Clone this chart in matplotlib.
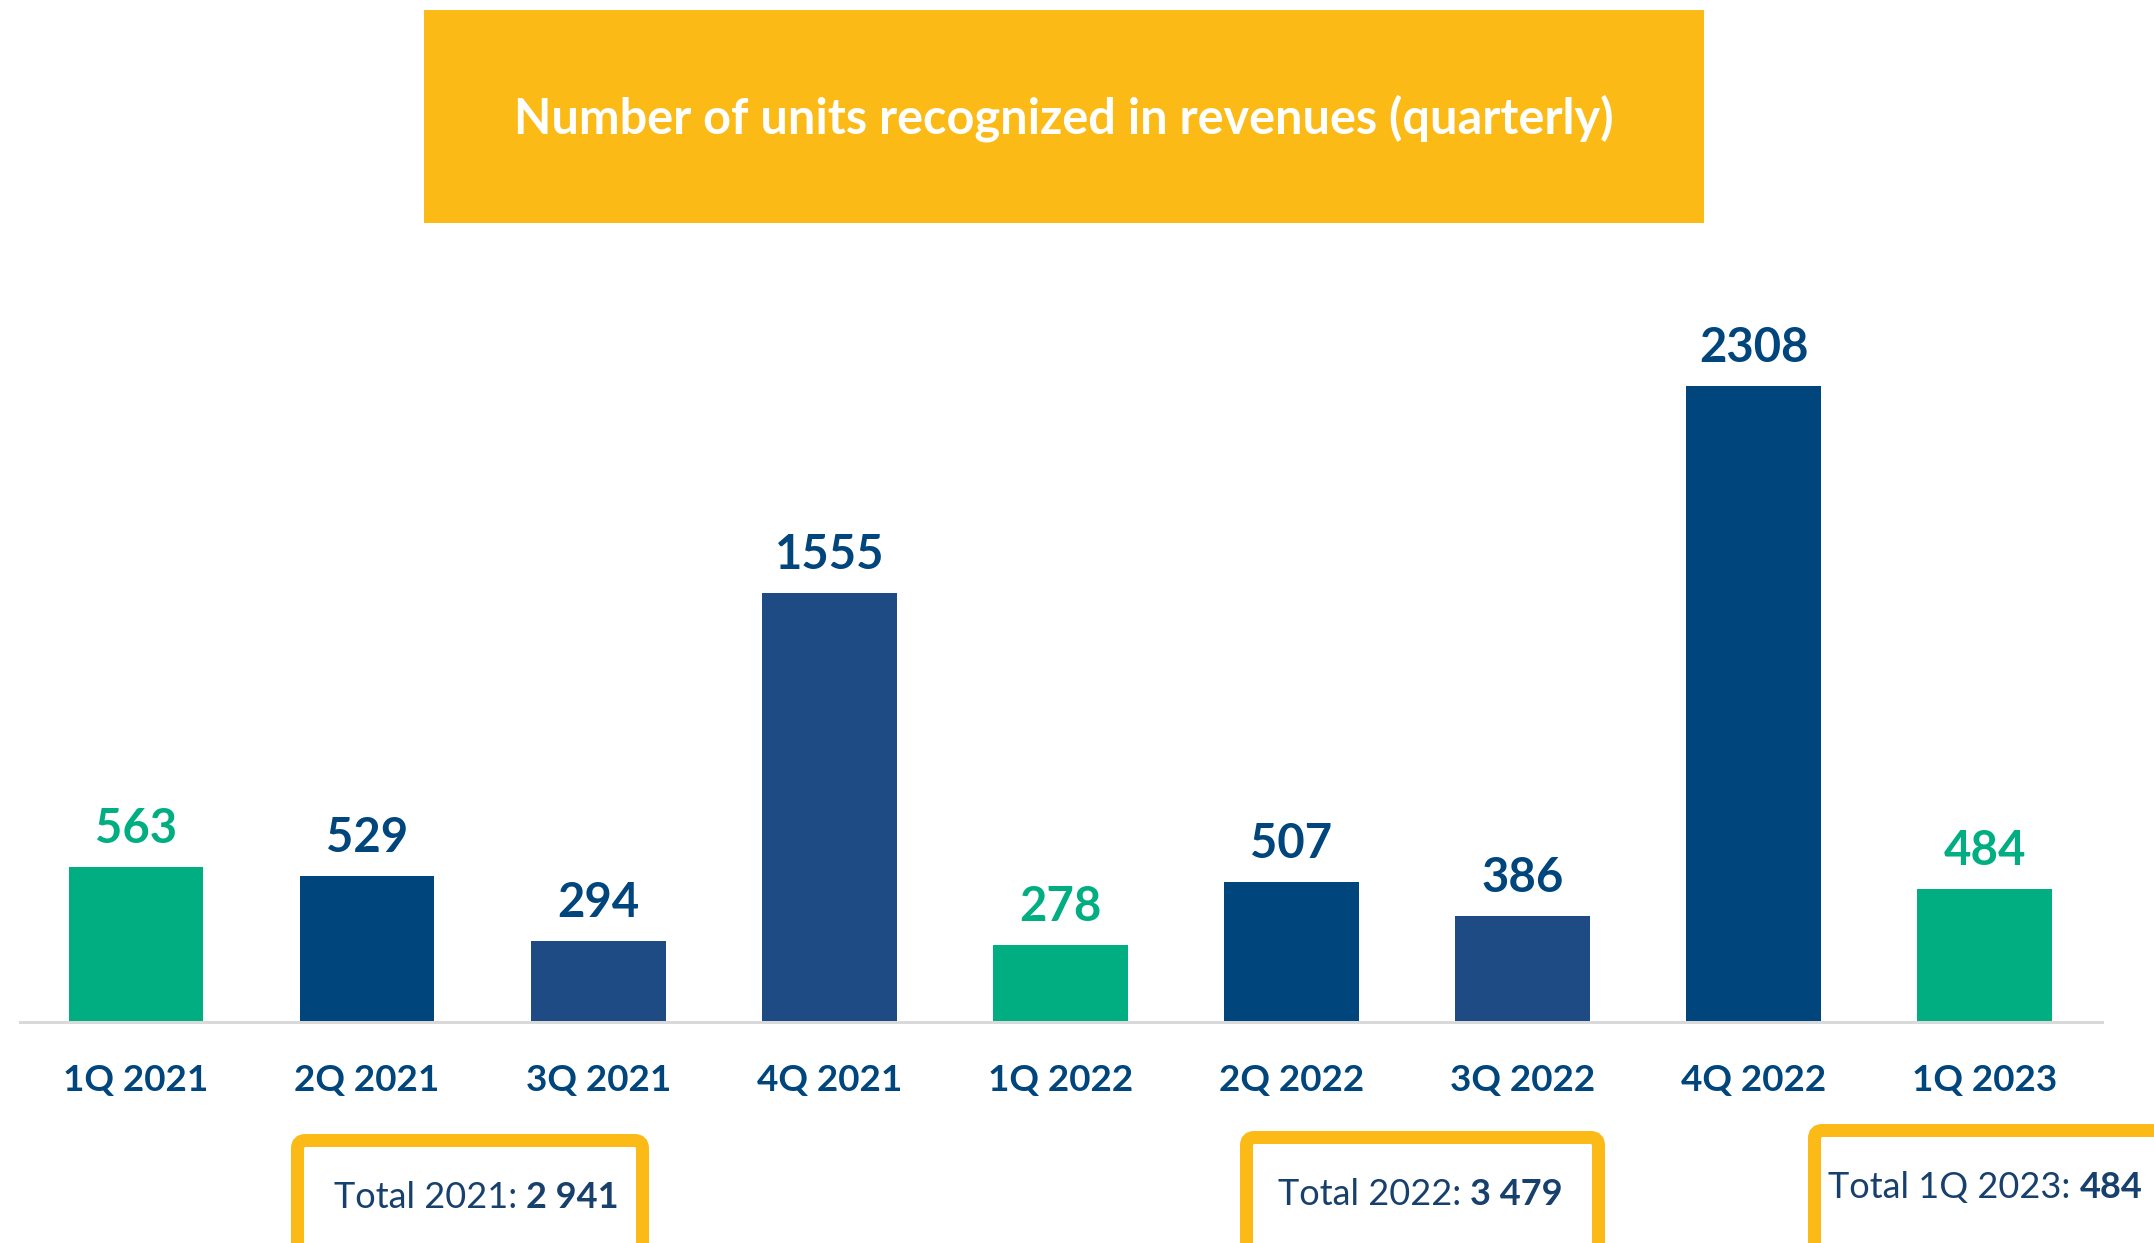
import matplotlib
matplotlib.use("Agg")
import matplotlib.pyplot as plt
from matplotlib.patches import Rectangle, FancyBboxPatch
from matplotlib.transforms import IdentityTransform
from matplotlib.text import Annotation

# ---- data ----
quarters = ["1Q 2021", "2Q 2021", "3Q 2021", "4Q 2021", "1Q 2022",
            "2Q 2022", "3Q 2022", "4Q 2022", "1Q 2023"]
units = [563, 529, 294, 1555, 278, 507, 386, 2308, 484]
bar_colors = ["#00AE81", "#00457B", "#1F4B85", "#1F4B85", "#00AE81",
              "#00457B", "#1F4B85", "#00457B", "#00AE81"]
label_colors = ["#00AE81", "#00457B", "#00457B", "#00457B", "#00AE81",
                "#00457B", "#00457B", "#00457B", "#00AE81"]
title = "Number of units recognized in revenues (quarterly)"
total_prefixes = ["Total 2021: ", "Total 2022: ", "Total 1Q 2023: "]
total_values = ["2 941", "3 479", "484"]

W, H = 2154, 1243
DPI = 100
plt.rcParams['font.family'] = ['Lato', 'DejaVu Sans']

fig = plt.figure(figsize=(W / DPI, H / DPI), dpi=DPI)
fig.patch.set_facecolor("white")

def fx(px):
    return px / W

def fy(py):
    return 1 - py / H

def pt(px):
    return px * 72 / DPI

# axes placement (pixels)
ax_left, ax_right, ax_base, ax_top = 20, 2102, 1022, 150
ax = fig.add_axes([fx(ax_left), fy(ax_base), (ax_right - ax_left) / W, (ax_base - ax_top) / H])
ax.set_facecolor("none")
ax.set_zorder(2)

x = list(range(len(quarters)))
ax.bar(x, units, width=0.583, color=bar_colors, zorder=2)
ax.set_xlim(-0.502, 8.507)
ax.set_ylim(0, 3164)

for i, (v, c) in enumerate(zip(units, label_colors)):
    ax.annotate(str(v), xy=(i, v), xytext=(0, pt(24)), textcoords="offset points",
                ha="center", va="baseline", fontsize=34, fontweight="bold", color=c)

for s in ["top", "left", "right"]:
    ax.spines[s].set_visible(False)
ax.spines["bottom"].set_color("#D9D9D9")
ax.spines["bottom"].set_linewidth(pt(3))
ax.set_yticks([])
ax.set_xticks(x)
ax.set_xticklabels(quarters, fontsize=26.5, fontweight="bold", color="#00457B")
ax.tick_params(axis="x", length=0, pad=pt(69))
for lbl in ax.get_xticklabels():
    lbl.set_va("baseline")

# title banner
fig.patches.append(Rectangle((fx(424), fy(223)), (1704 - 424) / W, (223 - 10) / H,
                             transform=fig.transFigure, facecolor="#FBBA16",
                             edgecolor="none", zorder=0))
fig.text(fx(1064), fy(134), title, ha="center", va="baseline", fontsize=35,
         fontweight="bold", color="white")

# total boxes (pixel coordinates: left, right, top of outer edge)
boxes = [(291, 649, 1134), (1240, 1605, 1131), (1808, 2200, 1124)]
text_pos = [(334, 1208), (1278, 1205), (1828, 1198)]
bw = 13
for (l, r, t) in boxes:
    p = FancyBboxPatch((l + bw / 2, -40), (r - l) - bw, (H - t - bw / 2) + 40,
                       boxstyle="round,pad=0,rounding_size=8",
                       transform=IdentityTransform(), facecolor="white",
                       edgecolor="#FBBA16", linewidth=pt(bw), zorder=1)
    fig.patches.append(p)

for (px, py), pre, val in zip(text_pos, total_prefixes, total_values):
    t1 = fig.text(fx(px), fy(py), pre, ha="left", va="baseline", fontsize=26,
                  color="#17406D", zorder=3)
    a = Annotation(val, xy=(1, 0), xycoords=t1, xytext=(0, 0), textcoords="offset points",
                   ha="left", va="bottom", fontsize=26, fontweight="bold", color="#17406D",
                   annotation_clip=False, zorder=3)
    fig.add_artist(a)

fig.savefig("out.png", dpi=DPI, facecolor="white")
